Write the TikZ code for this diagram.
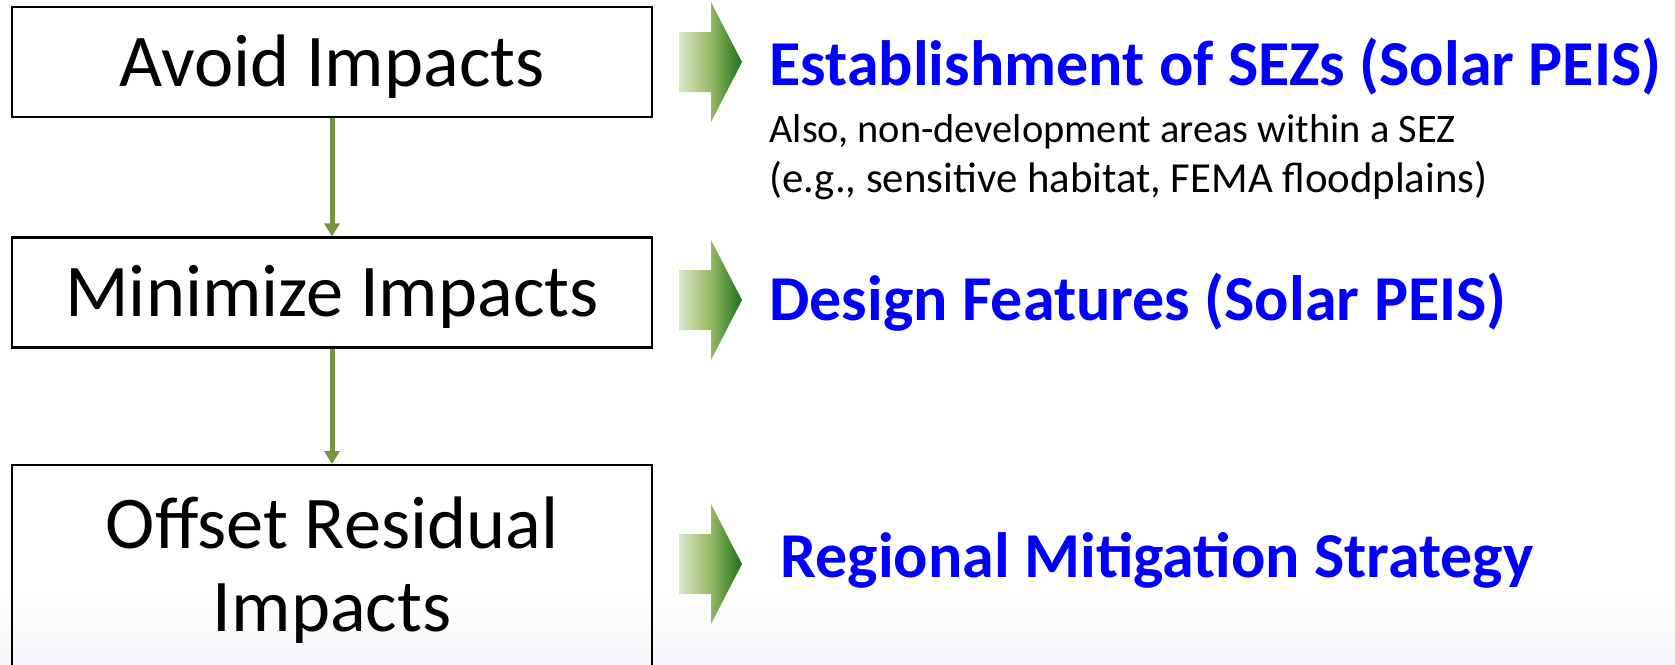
\documentclass[tikz,border=0pt]{standalone}
\usepackage{fontspec}
\setmainfont{Carlito}
\usetikzlibrary{arrows.meta}

\definecolor{olivegreen}{RGB}{119,147,60}
\definecolor{leafpale}{RGB}{218,232,200}
\definecolor{leafmid}{RGB}{150,185,100}
\definecolor{leafdark}{RGB}{25,115,25}
\definecolor{titleblue}{RGB}{0,0,255}
\definecolor{slidegray}{RGB}{244,246,249}

\begin{document}
\begin{tikzpicture}[x=0.5pt,y=-0.5pt,
	stage/.style={draw=black,line width=1.1pt,minimum width=320pt,minimum height=55pt,inner sep=0pt,font=\fontsize{37.2}{41.5}\selectfont,text height=24pt,text depth=0pt},
	down/.style={draw=olivegreen,line width=2.5pt,-{Triangle[width=7.5pt,length=6.5pt]}},
	fat/.style={left color=leafpale,right color=leafdark,middle color=leafmid},
	heading/.style={anchor=base west,inner sep=0pt,text=titleblue,font=\fontsize{32}{38}\selectfont\bfseries},
	note/.style={anchor=base west,inner sep=0pt,align=left,font=\fontsize{21.4}{25}\selectfont}]
	\useasboundingbox (0,0) rectangle (1675,664);
	\clip (0,0) rectangle (1675,664);
	\shade[top color=white,bottom color=slidegray] (0,590) rectangle (1675,664);

	% the three steps, top to bottom
	\node[stage] (avoid) at (332,62) {Avoid Impacts};
	\node[stage] (minimize) at (332,292.5) {Minimize Impacts};
	\node[stage,anchor=north,minimum height=120pt,align=center,text height=60pt,text depth=14pt] (offset) at (332,464) {Offset Residual\\Impacts};
	\draw[down] (avoid) -- (minimize);
	\draw[down] (minimize) -- (offset);

	% block arrows
	\foreach \y in {62,300,564}
		\shade[fat] (679,\y-30) -- (711,\y-30) -- (711,\y-60) -- (742,\y) -- (711,\y+60) -- (711,\y+30) -- (679,\y+30) -- cycle;

	\node[heading] (sez) at (769,85) {Establishment of SEZs (Solar PEIS)};
	\node[note] (areas) at (769,192) {{\fontsize{20.2}{25}\selectfont Also, non-development areas within a SEZ}\\(e.g., sensitive habitat, FEMA floodplains)};
	\node[heading] (design) at (769,320) {Design Features (Solar PEIS)};
	\node[heading] (regional) at (780,577) {Regional Mitigation Strategy};
\end{tikzpicture}
\end{document}
